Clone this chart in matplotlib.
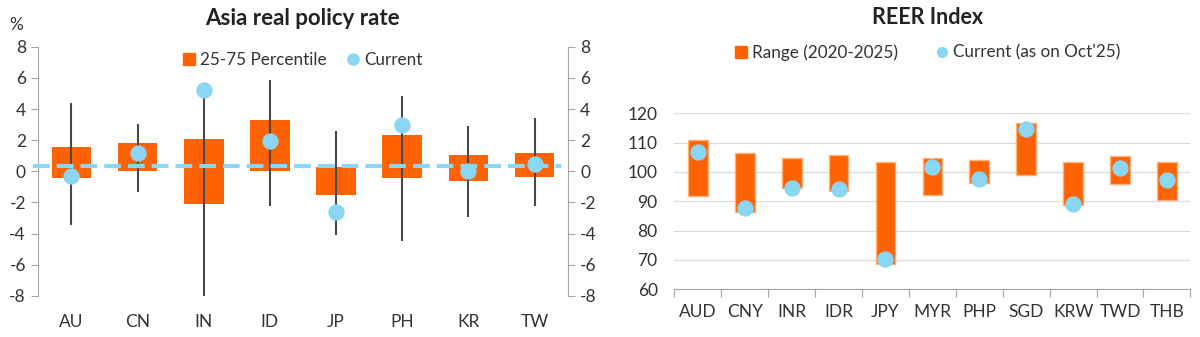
import matplotlib

matplotlib.use("Agg")
import matplotlib.pyplot as plt
from matplotlib.lines import Line2D
from matplotlib.patches import Patch
import numpy as np

plt.rcParams["font.family"] = ["Lato", "DejaVu Sans"]
plt.rcParams["axes.unicode_minus"] = False

ING_ORANGE = "#FF6200"
LIGHT_BLUE = "#89D6F5"
DARK_GREY = "#4a4a4a"
AXIS_GREY = "#a6a6a6"
TEXT = "#333333"

# Asia real policy rate (%)
rate_countries = ["AU", "CN", "IN", "ID", "JP", "PH", "KR", "TW"]
pct25 = [-0.45, 0.0, -2.1, 0.0, -1.55, -0.45, -0.65, -0.35]
pct75 = [1.55, 1.8, 2.05, 3.3, 0.25, 2.35, 1.05, 1.2]
rate_min = [-3.45, -1.3, -8.0, -2.2, -4.1, -4.5, -2.95, -2.25]
rate_max = [4.4, 3.05, 5.2, 5.85, 2.6, 4.85, 2.9, 3.45]
rate_current = [-0.3, 1.15, 5.2, 1.95, -2.6, 3.0, 0.0, 0.45]
rate_avg = 0.33

# REER index
currencies = ["AUD", "CNY", "INR", "IDR", "JPY", "MYR", "PHP", "SGD", "KRW", "TWD", "THB"]
reer_low = [91.6, 86.2, 94.4, 93.6, 68.5, 92.1, 96.3, 99.1, 88.7, 95.9, 90.4]
reer_high = [110.9, 106.3, 104.6, 105.6, 103.5, 104.6, 104.2, 116.5, 103.2, 105.3, 103.2]
reer_current = [106.7, 87.8, 94.6, 94.1, 70.3, 101.8, 97.6, 114.5, 88.9, 101.3, 97.3]

TICK_FS = 12.5
LEGEND_FS = 12.3

fig = plt.figure(figsize=(12, 3.37), dpi=100)

# --- left panel: policy rates ---
ax = fig.add_axes([0.032, 0.122, 0.441, 0.739])
x = np.arange(len(rate_countries))
lo = np.array(pct25)
hi = np.array(pct75)
ax.bar(x, hi - lo, bottom=lo, width=0.6, color=ING_ORANGE, zorder=2)
ax.vlines(x, rate_min, rate_max, color=DARK_GREY, lw=1.5, zorder=3)
ax.hlines(rate_avg, -0.58, len(rate_countries) - 0.6, color=LIGHT_BLUE, lw=3,
          linestyles=(0, (4, 1.7)), zorder=4, clip_on=False)
ax.scatter(x, rate_current, s=115, color=LIGHT_BLUE, zorder=5)
ax.set_xlim(-0.5, len(rate_countries) - 0.5)
ax.set_ylim(-8, 8)
ax.set_yticks(range(-8, 9, 2))
ax.set_xticks(x)
ax.set_xticklabels(rate_countries)
for side in ("top", "bottom", "right"):
    ax.spines[side].set_visible(False)
ax.spines["left"].set_color(AXIS_GREY)
ax.tick_params(axis="y", colors=AXIS_GREY, labelcolor=TEXT, labelsize=TICK_FS, length=5, pad=4)
ax.tick_params(axis="x", length=0, labelsize=TICK_FS, labelcolor=TEXT, pad=13)

ax2 = ax.twinx()
ax2.set_ylim(-8, 8)
ax2.set_yticks(range(-8, 9, 2))
for side in ("top", "bottom", "left"):
    ax2.spines[side].set_visible(False)
ax2.spines["right"].set_color(AXIS_GREY)
ax2.tick_params(axis="y", colors=AXIS_GREY, labelcolor=TEXT, labelsize=TICK_FS, length=5, pad=4)

fig.text(0.008, 0.925, "%", fontsize=TICK_FS, color=TEXT, va="center")
fig.text(0.252, 0.945, "Asia real policy rate", fontsize=16, fontweight="bold",
         color="#222222", ha="center", va="center")
ax.legend(
    handles=[Patch(color=ING_ORANGE, label="25-75 Percentile"),
             Line2D([], [], marker="o", ls="", color=LIGHT_BLUE, markersize=8, label="Current")],
    loc="upper center", bbox_to_anchor=(0.5, 1.04), ncol=2, frameon=False,
    fontsize=LEGEND_FS, handlelength=0.7, handletextpad=0.3, columnspacing=1.2,
    labelcolor=TEXT,
)

# --- right panel: REER ---
bx = fig.add_axes([0.562, 0.142, 0.43, 0.522])
xc = np.arange(len(currencies))
low = np.array(reer_low)
high = np.array(reer_high)
bx.bar(xc, high - low, bottom=low, width=0.42, color=ING_ORANGE,
       edgecolor="#FFB27A", lw=1.0, zorder=2)
bx.scatter(xc, reer_current, s=115, color=LIGHT_BLUE, zorder=3)
bx.set_xlim(-0.5, len(currencies) - 0.5)
bx.set_ylim(60, 120)
bx.set_yticks(range(60, 121, 10))
bx.grid(axis="y", color="#dcdcdc", lw=0.9, zorder=0)
bx.set_axisbelow(True)
for side in ("top", "left", "right"):
    bx.spines[side].set_visible(False)
bx.spines["bottom"].set_color(AXIS_GREY)
bx.set_xticks(np.arange(-0.5, len(currencies), 1.0), minor=False)
bx.set_xticklabels([])
bx.set_xticks(xc, minor=True)
bx.set_xticklabels(currencies, minor=True)
bx.tick_params(axis="x", which="major", length=6, color=AXIS_GREY)
bx.tick_params(axis="x", which="minor", length=0, labelsize=TICK_FS, labelcolor=TEXT, pad=11)
bx.tick_params(axis="y", length=0, labelsize=TICK_FS, labelcolor=TEXT, pad=12)

fig.text(0.773, 0.948, "REER Index", fontsize=15.5, fontweight="bold",
         color="#222222", ha="center", va="center")
fig.legend(
    handles=[Patch(color=ING_ORANGE, label="Range (2020-2025)"),
             Line2D([], [], marker="o", ls="", color=LIGHT_BLUE, markersize=7,
                    label="Current (as on Oct'25)")],
    loc="center", bbox_to_anchor=(0.773, 0.845), ncol=2, frameon=False,
    fontsize=LEGEND_FS, handlelength=0.7, handletextpad=0.3, columnspacing=2.2,
    labelcolor=TEXT,
)

fig.savefig("out.png", dpi=100)
